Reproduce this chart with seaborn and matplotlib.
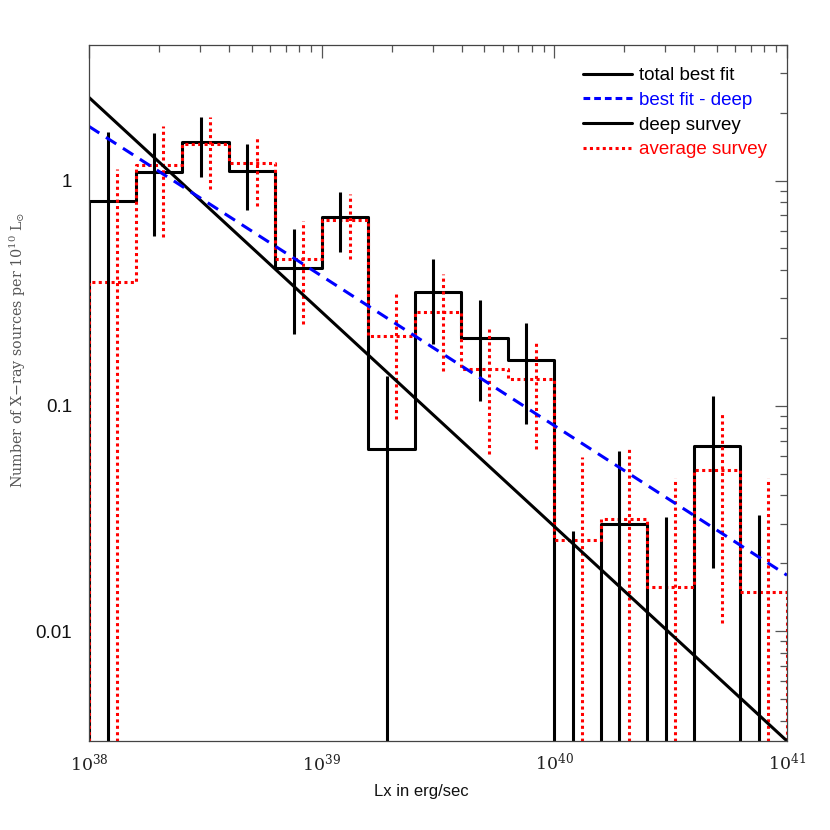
import numpy as np
import pandas as pd
import matplotlib
matplotlib.use("Agg")
import matplotlib.pyplot as plt
from matplotlib.ticker import FixedLocator, LogLocator, FuncFormatter, NullFormatter
from matplotlib.lines import Line2D
import seaborn as sns

# ---------------- data ----------------
log_edges = [38.0, 38.2, 38.4, 38.6, 38.8, 39.0, 39.2, 39.4, 39.6, 39.8,
             40.0, 40.2, 40.4, 40.6, 40.8, 41.0]

deep_vals = [0.81, 1.09, 1.49, 1.10, 0.41, 0.69, 0.064, 0.32, 0.20, 0.16,
             0.0, 0.030, 0.0, 0.066, 0.0]
deep_err_hi = [1.65, 1.62, 1.92, 1.45, 0.61, 0.89, 0.135, 0.45, 0.296, 0.234,
               0.0278, 0.063, 0.032, 0.111, 0.0328]
deep_err_lo = [0.0, 0.57, 1.04, 0.74, 0.209, 0.48, 0.0, 0.189, 0.105, 0.083,
               0.0, 0.0, 0.0, 0.019, 0.0]

avg_vals = [0.356, 1.17, 1.46, 1.20, 0.45, 0.67, 0.205, 0.262, 0.145, 0.132,
            0.0254, 0.0315, 0.0157, 0.052, 0.0149]
avg_err_hi = [1.13, 1.74, 1.92, 1.57, 0.66, 0.875, 0.324, 0.386, 0.224, 0.196,
              0.059, 0.064, 0.048, 0.093, 0.048]
avg_err_lo = [0.0, 0.56, 0.92, 0.77, 0.231, 0.45, 0.0875, 0.143, 0.061, 0.064,
              0.0, 0.0, 0.0, 0.0109, 0.0]

fit_x = [1e38, 1e41]
total_fit_y = [2.34, 0.00325]
deep_fit_y = [1.74, 0.0177]

xlim = (1e38, 1e41)
ylim = (0.00325, 4.0)

legend_labels = ["total best fit", "best fit - deep", "deep survey", "average survey"]
xlabel = "Lx in erg/sec"
ylabel = r"Number of X$-$ray sources per 10$^{10}$ L$_{\odot}$"

# ---------------- style ----------------
sns.set_theme(style="white")
plt.rcParams["font.family"] = ["Liberation Sans", "DejaVu Sans"]
plt.rcParams["mathtext.fontset"] = "dejavuserif"
plt.rcParams["mathtext.default"] = "rm"

fig = plt.figure(figsize=(8.3, 8.3), dpi=100)
ax = fig.add_axes([89 / 830, 1 - 741 / 830, (787 - 89) / 830, (741 - 45) / 830])
ax.set_xscale("log")
ax.set_yscale("log")

edges = 10 ** np.array(log_edges)

def step_frame(vals):
    xs = np.concatenate([[edges[0]], edges, [edges[-1]]])
    ys = np.concatenate([[0.0], vals, [vals[-1]], [0.0]])
    return pd.DataFrame({"x": xs, "y": ys})

lw = 2.2
# histograms
sns.lineplot(data=step_frame(np.array(deep_vals)), x="x", y="y", estimator=None, sort=False,
             drawstyle="steps-post", color="black", lw=lw, ax=ax)
avg_line = sns.lineplot(data=step_frame(np.array(avg_vals)), x="x", y="y", estimator=None, sort=False,
                        drawstyle="steps-post", color="red", lw=lw, ax=ax).lines[-1]
avg_line.set_dashes((1, 1.1))

# error bars
centers = 10 ** (np.array(log_edges[:-1]) + 0.1)
def clip_lo(a):
    a = np.array(a, dtype=float)
    a[a <= 0] = 1e-6
    return a
ax.vlines(centers * 10 ** -0.02, clip_lo(deep_err_lo), deep_err_hi, color="black", lw=lw)
vl = ax.vlines(centers * 10 ** 0.02, clip_lo(avg_err_lo), avg_err_hi, color="red", lw=lw)
vl.set_linestyle((0, (1, 1.1)))

# fits
sns.lineplot(x=fit_x, y=total_fit_y, color="black", lw=lw, ax=ax)
fl = sns.lineplot(x=fit_x, y=deep_fit_y, color="blue", lw=lw, ax=ax).lines[-1]
fl.set_dashes((4, 2.6))

ax.set_xlim(*xlim)
ax.set_ylim(*ylim)

# ticks
ax.xaxis.set_major_locator(FixedLocator([1e38, 1e39, 1e40, 1e41]))
ax.xaxis.set_minor_locator(LogLocator(base=10, subs=np.arange(2, 10)))
ax.yaxis.set_major_locator(FixedLocator([0.01, 0.1, 1]))
ax.yaxis.set_minor_locator(LogLocator(base=10, subs=np.arange(2, 10)))
ax.xaxis.set_major_formatter(FuncFormatter(lambda v, p: r"$10^{%d}$" % round(np.log10(v))))
ax.yaxis.set_major_formatter(FuncFormatter(lambda v, p: {0.01: "0.01", 0.1: "0.1", 1: "1"}.get(round(v, 2), "")))
ax.xaxis.set_minor_formatter(NullFormatter())
ax.yaxis.set_minor_formatter(NullFormatter())
ax.tick_params(which="both", direction="in", top=True, right=True, color="#555555", width=0.9)
ax.tick_params(which="major", length=9)
ax.tick_params(which="minor", length=5)
ax.tick_params(axis="x", labelsize=12.5, pad=8, labelcolor="#222222")
ax.tick_params(axis="y", labelsize=13.5, pad=12, labelcolor="#111111")
for s in ax.spines.values():
    s.set_color("#444444")
    s.set_linewidth(0.9)

ax.set_xlabel(xlabel, fontsize=12, color="#111111")
ax.xaxis.set_label_coords(0.476, -0.062)
ax.set_ylabel(ylabel, fontsize=10.3, color="#555555", family=["DejaVu Serif"])
ax.yaxis.set_label_coords(-0.087, 0.562)

# legend
handles = [
    Line2D([], [], color="black", lw=lw),
    Line2D([], [], color="blue", lw=lw, dashes=(2.2, 1.3)),
    Line2D([], [], color="black", lw=lw),
    Line2D([], [], color="red", lw=lw, dashes=(1, 1.1)),
]
leg = ax.legend(handles, legend_labels, loc="upper left", bbox_to_anchor=(0.708, 0.968),
                frameon=False, fontsize=13.5, handlelength=2.6, handletextpad=0.37,
                labelspacing=0.4, borderpad=0, borderaxespad=0)
for t, c in zip(leg.get_texts(), ["black", "blue", "black", "red"]):
    t.set_color(c)

fig.savefig("out.png", dpi=100)
